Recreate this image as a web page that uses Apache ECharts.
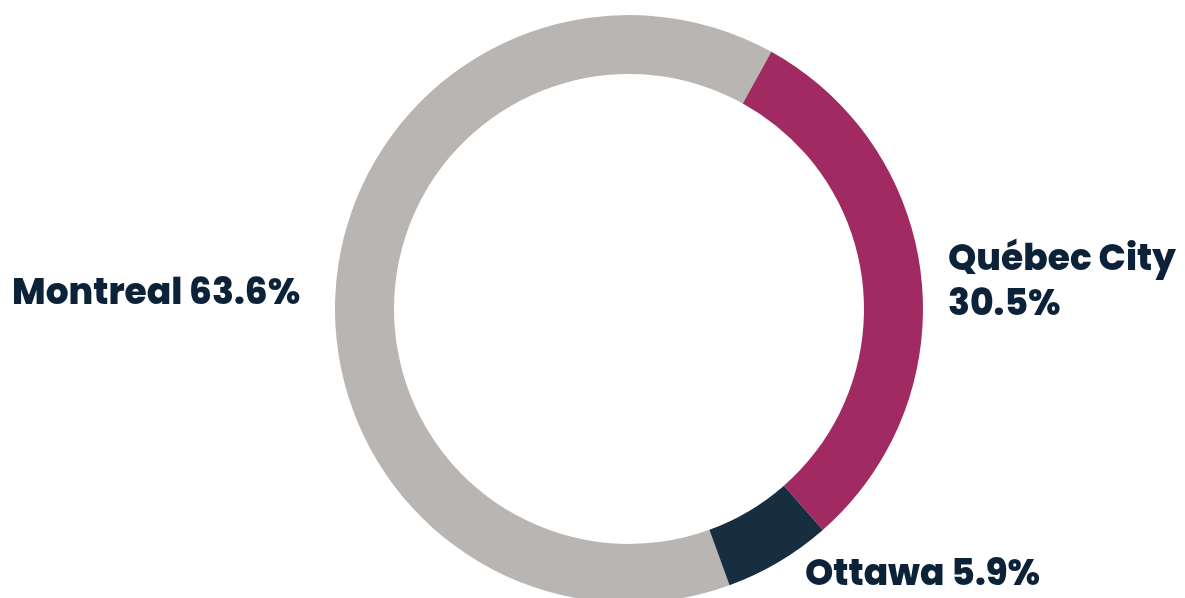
<!DOCTYPE html>
<html>
<head>
<meta charset="utf-8">
<script src="https://cdn.jsdelivr.net/npm/echarts@6/dist/echarts.min.js"></script>
<style>
  html, body { margin: 0; padding: 0; background: #ffffff; }
  #chart { width: 1185px; height: 598px; }
</style>
</head>
<body>
<div id="chart"></div>
<script>
// Share of trips by destination city (%)
const cities = ['Montreal', 'Québec City', 'Ottawa'];
const shares = [63.6, 30.5, 5.9];
const sliceColors = ['#b9b5b2', '#a12a63', '#172e40'];

// Where each city's label sits (left edge, vertical middle)
const labelAnchors = [
  { x: 12, y: 295 },
  { x: 948, y: 283 },
  { x: 805, y: 576 }
];

const chart = echarts.init(document.getElementById('chart'), null, { renderer: 'canvas' });

const data = cities.map((name, i) => ({
  name: name,
  value: shares[i],
  itemStyle: { color: sliceColors[i] }
}));

chart.setOption({
  animation: false,
  backgroundColor: '#ffffff',
  series: [{
    type: 'pie',
    center: [629, 309],
    radius: [235, 294],
    startAngle: 290,
    clockwise: true,
    avoidLabelOverlap: false,
    silent: true,
    itemStyle: { borderWidth: 0 },
    label: {
      show: true,
      position: 'outside',
      color: '#0b2239',
      fontFamily: 'Poppins, "Open Sans", sans-serif',
      fontWeight: 800,
      fontSize: 36,
      lineHeight: 45,
      formatter: function (p) {
        return p.name === 'Québec City'
          ? p.name + '\n' + p.value + '%'
          : p.name + ' ' + p.value + '%';
      }
    },
    labelLine: { show: false },
    labelLayout: function (params) {
      const a = labelAnchors[params.dataIndex];
      return { x: a.x, y: a.y, align: 'left', verticalAlign: 'middle' };
    },
    data: data
  }]
});
</script>
</body>
</html>
